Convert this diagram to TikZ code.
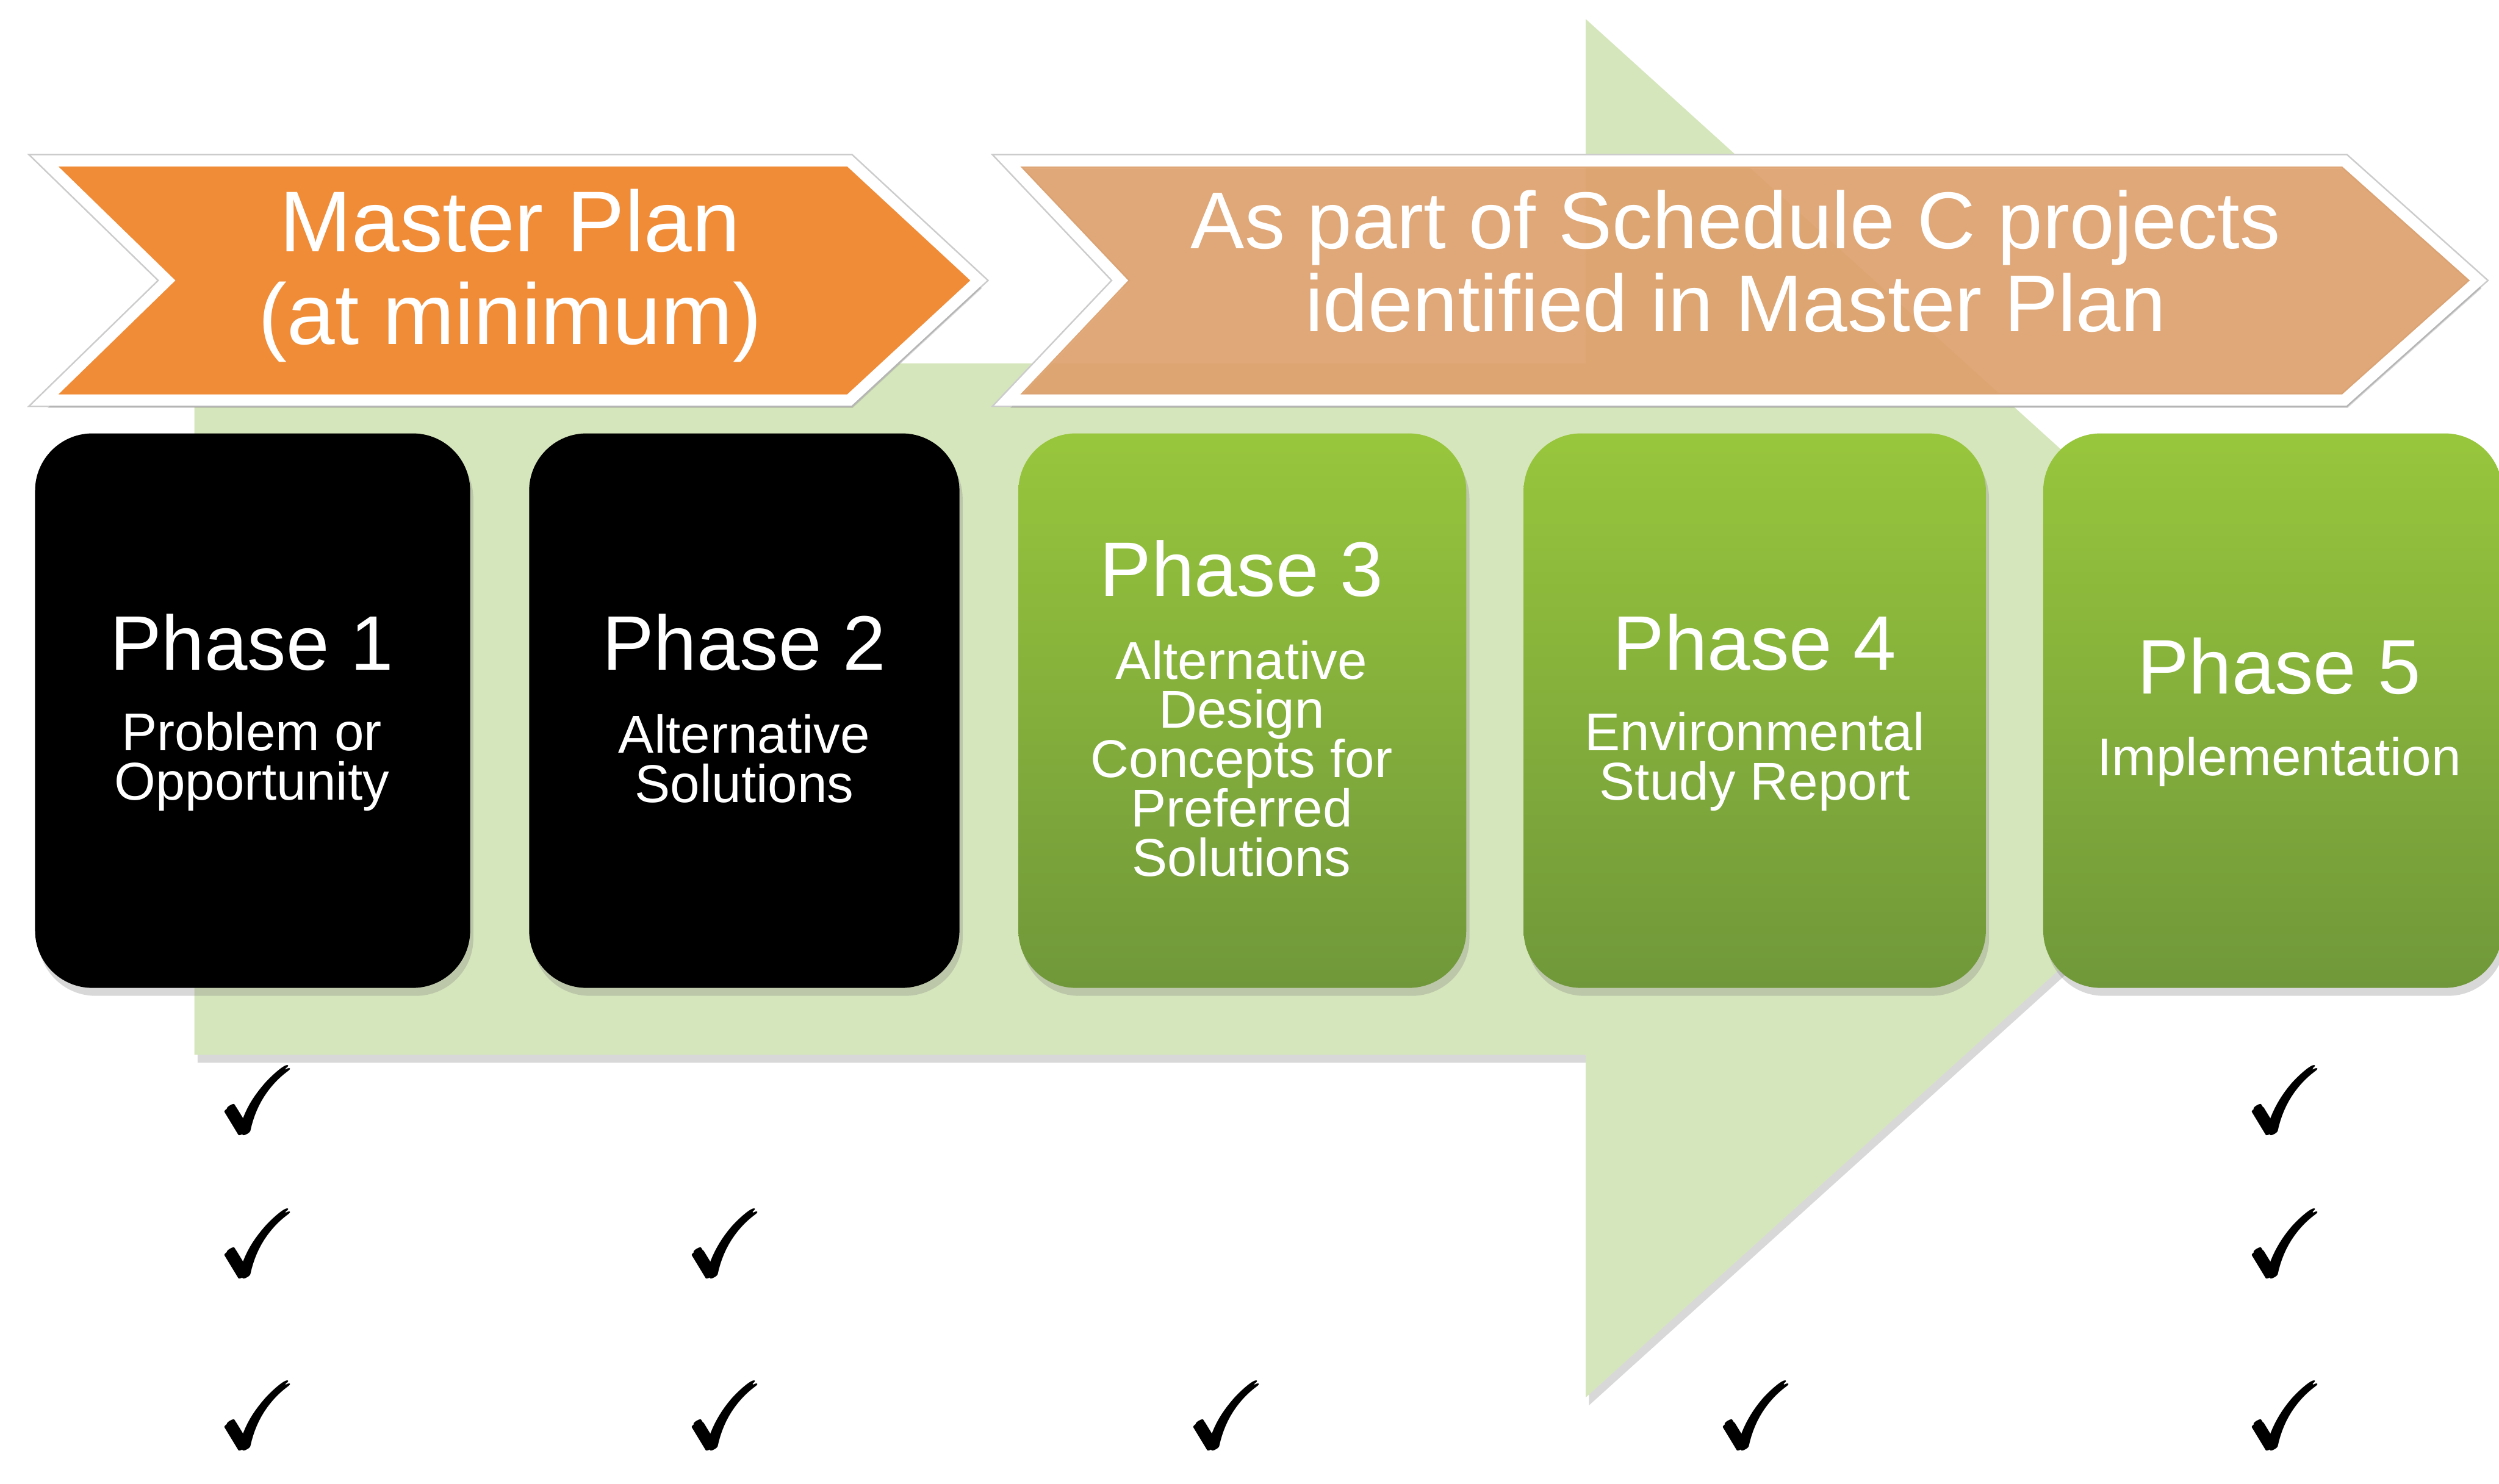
\documentclass[tikz,border=0pt]{standalone}
\usepackage{amsmath}
\usepackage{amssymb}
\usepackage{fontspec}
\setmainfont{Liberation Sans}
\usetikzlibrary{shadows}

\definecolor{mporange}{RGB}{240,140,55}
\definecolor{scorange}{RGB}{226,160,104}
\definecolor{arrowgreen}{RGB}{214,230,188}
\definecolor{boxtop}{RGB}{152,198,60}
\definecolor{boxbottom}{RGB}{112,152,58}

% small text inside the phase boxes, with fixed line distance
\newcommand\phasefont{\fontsize{9.5}{8.8}\selectfont\setlength{\lineskiplimit}{-20pt}}

\tikzset{
    softshadow/.style={drop shadow={shadow xshift=0.02cm, shadow yshift=-0.05cm, opacity=0.3}},
    phasebox/.style={rounded corners=0.36cm, minimum height=3.48cm, inner sep=0pt, softshadow},
    darkbox/.style={phasebox, fill=black},
    greenbox/.style={phasebox, top color=boxtop, bottom color=boxbottom},
    phasetitle/.style={text=white, font=\fontsize{13.8}{16}\selectfont},
    phasetext/.style={text=white, align=center, font=\phasefont},
    headtext/.style={text=white, align=center},
    banner/.style={preaction={draw=black!20, line width=0.09cm, line join=miter},
        draw=white, line width=0.07cm, line join=miter, softshadow},
    tickmark/.style={font=\fontsize{16.5}{16.5}\selectfont}
}

\begin{document}
\begin{tikzpicture}
    \useasboundingbox (0,0) rectangle (15.68,9.31);
    \fill[white] (0,0) rectangle (15.68,9.31);

    % Big background arrow
    \fill[arrowgreen, softshadow] (1.22,7.03) -- (9.95,7.03) -- (9.95,9.19) -- (14.73,4.86)
        -- (9.95,0.54) -- (9.95,2.69) -- (1.22,2.69) -- cycle;

    % Banners
    \path[banner, fill=mporange] (0.28,8.30) -- (5.33,8.30) -- (6.14,7.55) -- (5.33,6.80)
        -- (0.28,6.80) -- (1.05,7.55) -- cycle;
    \path[banner, fill=scorange, fill opacity=0.85] (6.32,8.30) -- (14.71,8.30) -- (15.55,7.55)
        -- (14.71,6.80) -- (6.32,6.80) -- (7.03,7.55) -- cycle;
    \node[headtext, font=\fontsize{15.4}{16.5}\selectfont] (mp) at (3.20,7.58) {Master Plan\\(at minimum)};
    \node[headtext, font=\fontsize{14.4}{14.8}\selectfont] (sc) at (10.89,7.67) {As part of Schedule C projects\\identified in Master Plan};

    % Phase boxes
    \node[darkbox, minimum width=2.73cm] (p1) at (1.585,4.85) {};
    \node[darkbox, minimum width=2.70cm] (p2) at (4.67,4.85) {};
    \node[greenbox, minimum width=2.81cm] (p3) at (7.795,4.85) {};
    \node[greenbox, minimum width=2.90cm] (p4) at (11.01,4.85) {};
    \node[greenbox, minimum width=2.88cm] (p5) at (14.26,4.85) {};

    % Phase titles and descriptions
    \node[phasetitle] (t1) at (1.58,5.28) {Phase 1};
    \node[phasetext] (d1) at (1.58,4.53) {Problem or\\Opportunity};
    \node[phasetitle] (t2) at (4.67,5.28) {Phase 2};
    \node[phasetext] (d2) at (4.67,4.55) {Alternative\\Solutions};
    \node[phasetitle] (t3) at (7.79,5.74) {Phase 3};
    \node[phasetext] (d3) at (7.79,4.55) {Alternative\\Design\\Concepts for\\Preferred\\Solutions};
    \node[phasetitle] (t4) at (11.01,5.28) {Phase 4};
    \node[phasetext] (d4) at (11.01,4.53) {Environmental\\Study Report};
    \node[phasetitle] (t5) at (14.30,5.13) {Phase 5};
    \node[phasetext] (d5) at (14.30,4.53) {Implementation};

    % Check marks
    \foreach \x/\y [count=\i] in {1.63/2.41, 14.35/2.41, 1.63/1.51, 4.56/1.51, 14.35/1.51,
                                   1.63/0.43, 4.56/0.43, 7.71/0.43, 11.03/0.43, 14.35/0.43}
        \node[tickmark] (c\i) at (\x,\y) {$\pmb{\checkmark}$};
\end{tikzpicture}
\end{document}
